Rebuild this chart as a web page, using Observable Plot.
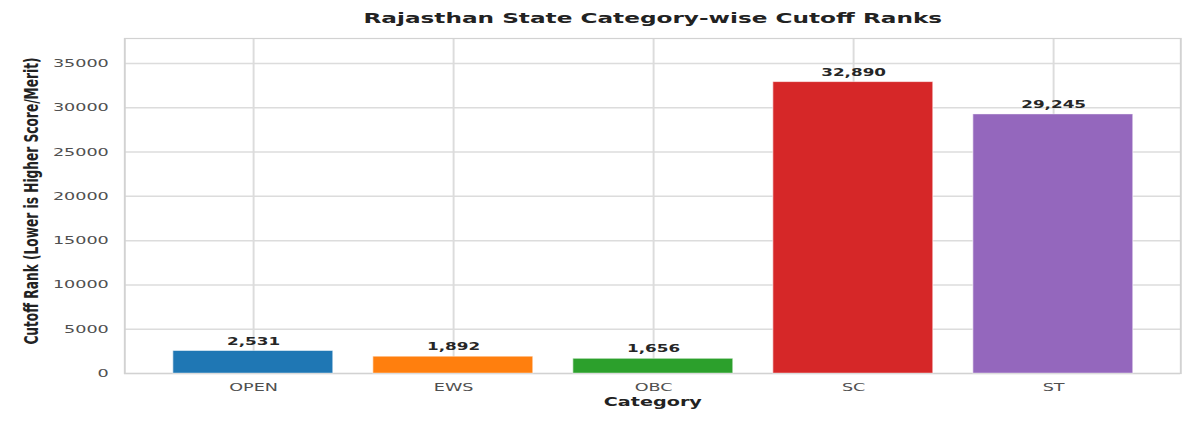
<!DOCTYPE html>
<html>
<head>
<meta charset="utf-8">
<script src="https://cdn.jsdelivr.net/npm/d3@7"></script>
<script src="https://cdn.jsdelivr.net/npm/@observablehq/plot@0.6"></script>
<style>
  html, body { margin: 0; padding: 0; background: #fff; }
  #chart { width: 1200px; height: 422px; overflow: hidden; }
</style>
</head>
<body>
<div id="chart"></div>
<script>
const categories = ["OPEN", "EWS", "OBC", "SC", "ST"];
const cutoffRanks = [2531, 1892, 1656, 32890, 29245];
const barColors = ["#1f77b4", "#ff7f0e", "#2ca02c", "#d62728", "#9467bd"];
const yTicks = [0, 5000, 10000, 15000, 20000, 25000, 30000, 35000];
const titleText = "Rajasthan State Category-wise Cutoff Ranks";
const xLabel = "Category";
const yLabel = "Cutoff Rank (Lower is Higher Score/Merit)";

const data = categories.map((c, i) => ({category: c, rank: cutoffRanks[i]}));
const yMax = d3.max(cutoffRanks) * 1.15;
const fmt = d3.format(",");

const W = 750, H = 422;
const gridColor = "#dcdcdc";

const svg = Plot.plot({
  width: W,
  height: H,
  marginLeft: 77.5,
  marginRight: 12.5,
  marginTop: 38,
  marginBottom: 49,
  style: {fontFamily: "DejaVu Sans", fontSize: "11px", background: "white", overflow: "visible"},
  x: {domain: categories, paddingInner: 0.2, paddingOuter: 0.24, axis: null, label: null},
  y: {domain: [0, yMax], axis: null, label: null},
  color: {domain: categories, range: barColors},
  marks: [
    Plot.gridY(yTicks, {stroke: gridColor, strokeOpacity: 1, strokeWidth: 1.5}),
    Plot.gridX(categories, {stroke: gridColor, strokeOpacity: 1, strokeWidth: 1.2}),
    Plot.frame({stroke: "#d2d2d2", strokeWidth: 1.2}),
    Plot.barY(data, {x: "category", y: "rank", fill: "category", stroke: "white", strokeOpacity: 0.5, strokeWidth: 0.8}),
    Plot.text(data, {x: "category", y: "rank", text: d => fmt(d.rank), dy: -6.5, lineAnchor: "bottom", fontWeight: "bold", fontSize: 10.5, fill: "#262626"}),
    Plot.axisY(yTicks, {tickSize: 0, tickPadding: 10, tickFormat: d => String(d), fontSize: 11, fill: "#505050", label: null}),
    Plot.axisX({tickSize: 0, tickPadding: 10, fontSize: 11, fill: "#505050", label: null}),
    Plot.text([titleText], {text: d => d, frameAnchor: "top", dy: -19.7, lineAnchor: "middle", fontWeight: "bold", fontSize: 14.5, fill: "#222"}),
    Plot.text([xLabel], {text: d => d, frameAnchor: "bottom", dy: 28.5, lineAnchor: "middle", fontWeight: "bold", fontSize: 12, fill: "#222"}),
    Plot.text([yLabel], {text: d => d, frameAnchor: "left", textAnchor: "middle", dx: -58, dy: -5, rotate: -90, lineAnchor: "middle", fontWeight: "bold", fontSize: 12.2, fill: "#222"})
  ]
});

svg.setAttribute("width", 1200);
svg.setAttribute("height", 422);
svg.setAttribute("viewBox", `0 0 ${W} ${H}`);
svg.setAttribute("preserveAspectRatio", "none");
svg.style.width = "1200px";
svg.style.height = "422px";
svg.style.maxWidth = "none";
document.getElementById("chart").appendChild(svg);
</script>
</body>
</html>
